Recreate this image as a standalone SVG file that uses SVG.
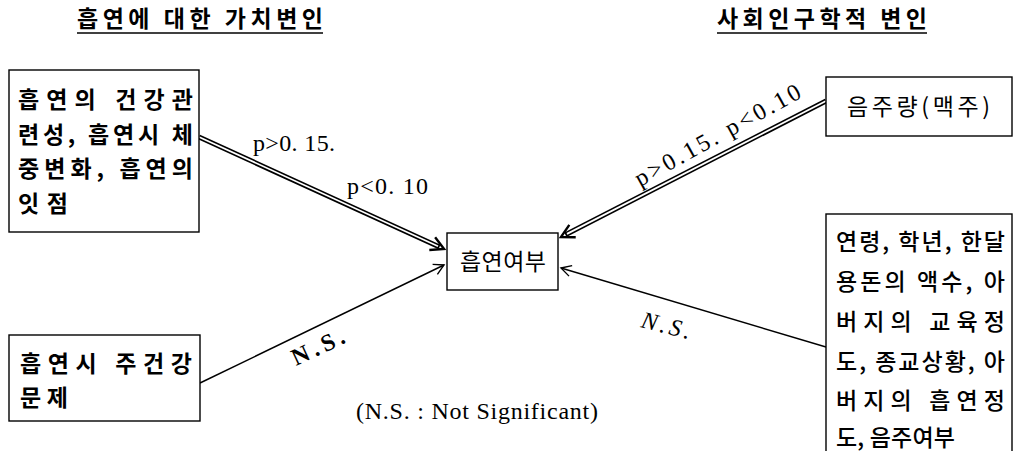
<svg xmlns="http://www.w3.org/2000/svg" width="1014" height="451" viewBox="0 0 1014 451">
<style>
.box{fill:#fff;stroke:#000;stroke-width:1.4}
.ko{font-family:"Noto Sans CJK KR",sans-serif;font-size:23px;fill:#000}
.b{font-weight:700}
.m{font-weight:500}
.lat{font-family:"Liberation Serif",serif;font-size:24px;fill:#000}
.dbo{fill:none;stroke:#000;stroke-width:5}
.dbi{fill:none;stroke:#fff;stroke-width:1.8}
.sgl{fill:none;stroke:#000;stroke-width:1.4}
.ul{stroke:#000;stroke-width:1.6}
</style>
<defs>
<marker id="arr" markerUnits="userSpaceOnUse" viewBox="-12 -8 14 16" markerWidth="14" markerHeight="16" refX="0" refY="0" orient="auto">
<path d="M-10,-5.5 L0,0 L-10,5.5" fill="none" stroke="#000" stroke-width="1.4"/>
</marker>
<marker id="arr2" markerUnits="userSpaceOnUse" viewBox="-12 -10 20 20" markerWidth="20" markerHeight="20" refX="0" refY="0" orient="auto">
<path d="M-8,-7 L5,0 L-8,7" fill="none" stroke="#000" stroke-width="2.4"/>
</marker>
</defs>
<rect width="1014" height="451" fill="#fff"/>

<g id="titles">
<text class="ko b" x="77" y="27" textLength="246" lengthAdjust="spacing">흡연에 대한 가치변인</text>
<line class="ul" x1="77" y1="33" x2="323" y2="33"/>
<text class="ko b" x="717" y="27" textLength="210" lengthAdjust="spacing">사회인구학적 변인</text>
<line class="ul" x1="717" y1="33" x2="927" y2="33"/>
</g>

<g id="connectors">
<path class="dbo" d="M199,137 L439.5,246.9" marker-end="url(#arr2)"/>
<path class="dbi" d="M199,137 L438,246.2"/>
<path class="dbo" d="M826,101 L565.4,234.7" marker-end="url(#arr2)"/>
<path class="dbi" d="M826,101 L567,233.9"/>
<path class="sgl" d="M200,383 L444,265" marker-end="url(#arr)"/>
<path class="sgl" d="M826,347 L561,268" marker-end="url(#arr)"/>
<text class="lat" x="253" y="151" textLength="82" lengthAdjust="spacing">p&gt;0. 15.</text>
<text class="lat" x="347" y="194" textLength="81" lengthAdjust="spacing">p&lt;0. 10</text>
<text class="lat" transform="translate(640,187) rotate(-29)" textLength="186" lengthAdjust="spacing">p&gt;0.15.  p&lt;0.10</text>
<text class="lat" font-weight="700" transform="translate(296,366) rotate(-25)" textLength="56" lengthAdjust="spacing">N.S.</text>
<text class="lat" font-style="italic" transform="translate(640,327) rotate(14)" textLength="50" lengthAdjust="spacing">N.S.</text>
</g>

<g id="node-value">
<rect class="box" x="9" y="70" width="190" height="162"/>
<text class="ko b" x="18" y="108" textLength="175" lengthAdjust="spacing">흡연의 건강관</text>
<text class="ko b" x="18" y="143" textLength="175" lengthAdjust="spacing">련성, 흡연시 체</text>
<text class="ko b" x="18" y="177" textLength="175" lengthAdjust="spacing">중변화, 흡연의</text>
<text class="ko b" x="18" y="212" textLength="50" lengthAdjust="spacing">잇점</text>
</g>

<g id="node-health">
<rect class="box" x="9" y="335" width="191" height="86"/>
<text class="ko b" x="20" y="372" textLength="172" lengthAdjust="spacing">흡연시 주건강</text>
<text class="ko b" x="20" y="406" textLength="48" lengthAdjust="spacing">문제</text>
</g>

<g id="node-smoking">
<rect class="box" x="447" y="233" width="111" height="57"/>
<text class="ko" x="460" y="270" textLength="86" lengthAdjust="spacing">흡연여부</text>
</g>

<g id="node-drink">
<rect class="box" x="826" y="77" width="186" height="59"/>
<text class="ko" x="847" y="115" textLength="143" lengthAdjust="spacing">음주량(맥주)</text>
</g>

<g id="node-demo">
<rect class="box" x="826" y="214" width="186" height="250"/>
<text class="ko m" x="836" y="250" textLength="169" lengthAdjust="spacing">연령, 학년, 한달</text>
<text class="ko m" x="836" y="290" textLength="169" lengthAdjust="spacing">용돈의 액수, 아</text>
<text class="ko m" x="836" y="330" textLength="169" lengthAdjust="spacing">버지의 교육정</text>
<text class="ko m" x="836" y="370" textLength="169" lengthAdjust="spacing">도, 종교상황, 아</text>
<text class="ko m" x="836" y="409" textLength="169" lengthAdjust="spacing">버지의 흡연정</text>
<text class="ko m" x="836" y="446" textLength="119" lengthAdjust="spacing">도, 음주여부</text>
</g>

<text class="lat" x="356" y="419" font-size="21" textLength="242" lengthAdjust="spacing">(N.S. : Not Significant)</text>
</svg>
